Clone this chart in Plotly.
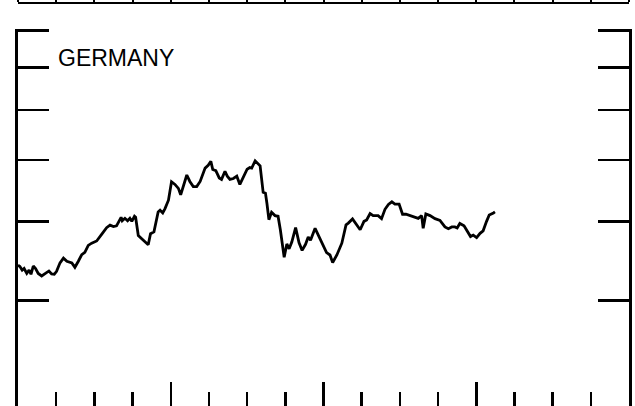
import plotly.graph_objects as go

# Time (decimal years) and index values (log scale)
years = [
    1973.00, 1973.05, 1973.11, 1973.16, 1973.23, 1973.29, 1973.34, 1973.40, 1973.46, 1973.53,
    1973.62, 1973.75, 1973.81, 1973.88, 1973.95, 1974.01, 1974.10, 1974.19, 1974.28, 1974.41,
    1974.49, 1974.58, 1974.67, 1974.75, 1974.84, 1974.93, 1975.06, 1975.19, 1975.32, 1975.41,
    1975.50, 1975.58, 1975.64, 1975.70, 1975.73, 1975.80, 1975.87, 1975.93, 1975.98, 1976.05,
    1976.08, 1976.15, 1976.24, 1976.34, 1976.41, 1976.47, 1976.56, 1976.67, 1976.72, 1976.79,
    1976.85, 1976.94, 1977.02, 1977.11, 1977.20, 1977.26, 1977.33, 1977.42, 1977.50, 1977.59,
    1977.68, 1977.77, 1977.90, 1977.98, 1978.05, 1978.10, 1978.18, 1978.27, 1978.33, 1978.42,
    1978.48, 1978.55, 1978.64, 1978.73, 1978.81, 1978.90, 1979.00, 1979.07, 1979.12, 1979.21,
    1979.34, 1979.42, 1979.48, 1979.52, 1979.57, 1979.64, 1979.73, 1979.81, 1979.87, 1979.97,
    1980.04, 1980.10, 1980.17, 1980.27, 1980.36, 1980.44, 1980.53, 1980.60, 1980.66, 1980.78,
    1980.86, 1980.99, 1981.08, 1981.17, 1981.24, 1981.35, 1981.48, 1981.59, 1981.65, 1981.76,
    1981.87, 1981.96, 1982.06, 1982.13, 1982.22, 1982.30, 1982.43, 1982.52, 1982.61, 1982.70,
    1982.79, 1982.87, 1982.98, 1983.07, 1983.16, 1983.26, 1983.37, 1983.48, 1983.57, 1983.61,
    1983.68, 1983.79, 1983.92, 1984.05, 1984.18, 1984.27, 1984.36, 1984.44, 1984.50, 1984.57,
    1984.68, 1984.76, 1984.85, 1984.92, 1985.01, 1985.10, 1985.18, 1985.27, 1985.34, 1985.45,
    1985.49,
]

germany = [
    68.2, 67.9, 67.0, 67.4, 66.2, 67.0, 66.0, 68.0, 67.4, 66.2,
    65.6, 66.3, 66.8, 66.1, 66.0, 66.7, 68.8, 70.0, 69.2, 68.8,
    67.7, 69.2, 70.9, 71.5, 73.3, 73.9, 74.5, 76.3, 78.2, 78.9,
    78.5, 78.7, 79.9, 81.2, 80.2, 80.9, 80.2, 80.9, 80.0, 81.5,
    81.2, 76.0, 75.1, 74.2, 73.5, 76.5, 77.0, 82.8, 83.3, 82.5,
    83.8, 86.4, 92.4, 91.5, 90.2, 88.1, 91.3, 94.7, 92.5, 90.8,
    90.8, 92.5, 97.1, 98.1, 99.5, 96.6, 96.2, 93.7, 93.2, 96.0,
    94.3, 93.2, 93.5, 94.3, 91.5, 93.8, 96.7, 97.3, 97.1, 99.7,
    97.9, 88.9, 88.6, 85.3, 80.5, 82.7, 81.7, 81.5, 77.6, 70.2,
    73.7, 72.4, 74.2, 78.2, 74.0, 72.0, 73.6, 75.6, 74.7, 78.0,
    76.1, 73.4, 71.4, 70.8, 68.9, 70.8, 73.9, 79.0, 79.5, 80.7,
    79.1, 77.6, 80.0, 80.4, 82.3, 81.7, 81.7, 80.8, 83.6, 85.1,
    85.9, 85.2, 85.2, 82.1, 82.1, 81.7, 81.2, 80.9, 81.7, 78.0,
    82.2, 81.7, 80.8, 80.3, 78.4, 77.9, 78.4, 78.4, 78.1, 79.4,
    78.7, 77.2, 75.7, 76.1, 75.4, 76.6, 77.3, 80.0, 81.9, 82.5,
    82.8,
]

y_tick_values = [60, 80, 100, 120, 140, 160]
x_start, x_end = 1973, 1989
label = "GERMANY"

W, H = 635, 406
M_L, M_R, M_T, M_B = 18, 6, 3, 0
y_range = [1.6115, 2.2065]
px_per_decade = 633.0
plot_top_px = 30.8 - (y_range[1] - 2.2041) * px_per_decade
paper_h = H - M_T - M_B
dom_top = (H - M_B - plot_top_px) / paper_h

fig = go.Figure()
fig.add_trace(go.Scatter(
    x=years, y=germany, mode="lines",
    line=dict(color="black", width=2.8),
    showlegend=False, hoverinfo="skip",
))
# empty trace to carry the top strip axis (bottom edge of the panel above)
fig.add_trace(go.Scatter(x=[], y=[], xaxis="x2", yaxis="y", showlegend=False))

fig.update_layout(
    width=W, height=H,
    margin=dict(l=M_L, r=M_R, t=M_T, b=M_B, pad=0, autoexpand=False),
    paper_bgcolor="white", plot_bgcolor="white",
    xaxis=dict(
        range=[x_start, x_end], showline=False, showgrid=False, zeroline=False,
        automargin=False,
        showticklabels=False, ticks="inside", tickmode="linear", tick0=x_start, dtick=4,
        ticklen=24, tickwidth=2.5, tickcolor="black",
        minor=dict(ticks="inside", tickmode="linear", tick0=x_start, dtick=1,
                   ticklen=14.5, tickwidth=2.5, tickcolor="black", showgrid=False),
    ),
    xaxis2=dict(
        range=[x_start, x_end], overlaying="x", anchor="free", position=1, side="top",
        automargin=False,
        showline=True, linewidth=2, linecolor="black", showgrid=False, zeroline=False,
        showticklabels=False, ticks="outside", tickmode="linear", tick0=x_start, dtick=1,
        ticklen=4, tickwidth=2, tickcolor="black",
    ),
    yaxis=dict(
        type="log", range=y_range, domain=[0, dom_top], automargin=False,
        showline=True, linewidth=2.7, linecolor="black", mirror="ticks",
        showgrid=False, zeroline=False, showticklabels=False,
        ticks="inside", tickvals=y_tick_values, ticklen=31, tickwidth=2.7, tickcolor="black",
    ),
    annotations=[dict(
        text=label, xref="paper", yref="paper",
        x=(55.6 - M_L) / (W - M_L - M_R), y=(H - M_B - 58.3) / paper_h,
        xanchor="left", yanchor="middle", showarrow=False,
        font=dict(family="Liberation Sans, Arial, sans-serif", size=23, color="black"),
    )],
)

fig.write_html(
    "out.html",
    config={"displayModeBar": False, "staticPlot": True},
    post_script="document.body.style.margin='0';document.body.style.padding='0';"
                "document.body.style.overflow='hidden';",
)
